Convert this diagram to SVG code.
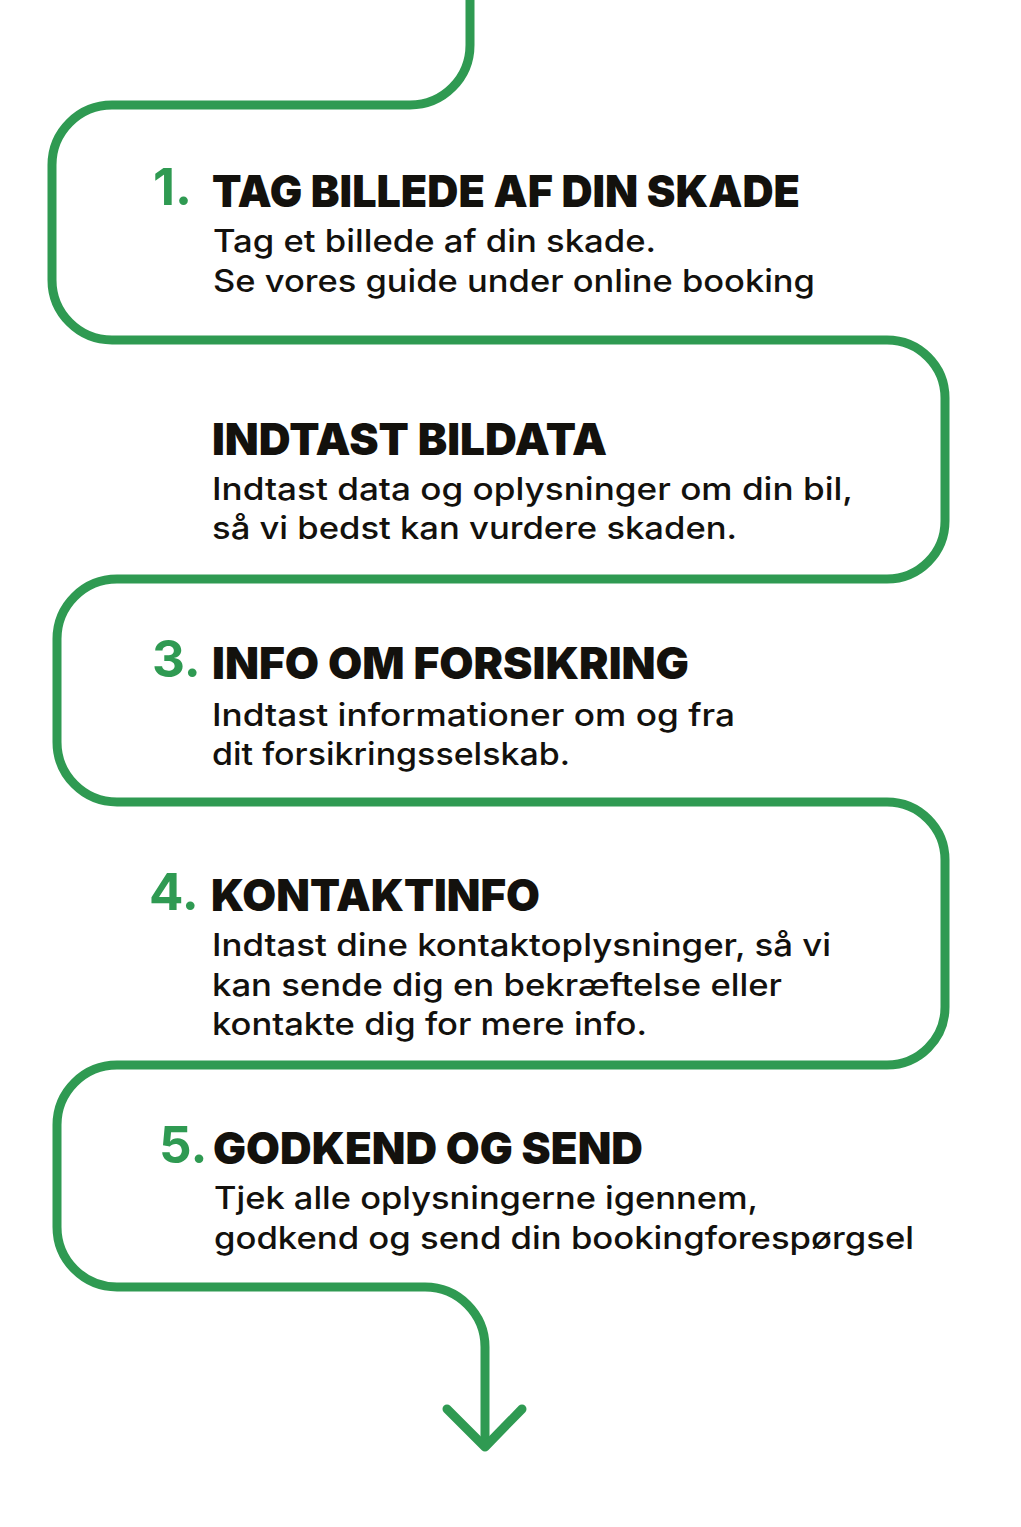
<svg xmlns="http://www.w3.org/2000/svg" width="1021" height="1527" viewBox="0 0 1021 1527">
  <style>
    .num { font-family: Inter, "Open Sans", sans-serif; font-weight: 700; font-size: 51px; fill: #2f9a52; }
    .ttl { font-family: Inter, "Open Sans", sans-serif; font-weight: 900; font-size: 44px; fill: #13110d; }
    .body { font-family: Inter, "Open Sans", sans-serif; font-weight: 500; font-size: 31px; fill: #13110d; }
    .line { fill: none; stroke: #2f9a52; stroke-width: 9; stroke-linecap: round; stroke-linejoin: round; }
  </style>
  <rect width="1021" height="1527" fill="#ffffff"/>
  <g id="connectors">
    <path class="line" d="M 470 -10 V 45 A 60 60 0 0 1 410 105 H 112 A 60 60 0 0 0 52 165 V 280 A 60 60 0 0 0 112 340 H 887 A 58 58 0 0 1 945 398 V 521 A 58 58 0 0 1 887 579 H 117 A 60 60 0 0 0 57 639 V 742 A 60 60 0 0 0 117 802 H 887 A 58 58 0 0 1 945 860 V 1007 A 58 58 0 0 1 887 1065 H 117 A 60 60 0 0 0 57 1125 V 1227 A 60 60 0 0 0 117 1287 H 425 A 60 60 0 0 1 485 1347 V 1446"/>
    <path class="line" d="M 447 1409 L 485 1447 L 522 1409"/>
  </g>
  <g id="step1">
    <text class="num" x="153" y="205">1.</text>
    <text class="ttl" x="212" y="207" textLength="588" lengthAdjust="spacingAndGlyphs">TAG BILLEDE AF DIN SKADE</text>
    <text class="body" x="213" y="252" textLength="443" lengthAdjust="spacingAndGlyphs">Tag et billede af din skade.</text>
    <text class="body" x="213" y="292" textLength="602" lengthAdjust="spacingAndGlyphs">Se vores guide under online booking</text>
  </g>
  <g id="step2">
    <text class="ttl" x="212" y="455" textLength="395" lengthAdjust="spacingAndGlyphs">INDTAST BILDATA</text>
    <text class="body" x="212" y="500" textLength="641" lengthAdjust="spacingAndGlyphs">Indtast data og oplysninger om din bil,</text>
    <text class="body" x="212" y="539" textLength="525" lengthAdjust="spacingAndGlyphs">så vi bedst kan vurdere skaden.</text>
  </g>
  <g id="step3">
    <text class="num" x="152" y="677">3.</text>
    <text class="ttl" x="212" y="679" textLength="477" lengthAdjust="spacingAndGlyphs">INFO OM FORSIKRING</text>
    <text class="body" x="212" y="726" textLength="523" lengthAdjust="spacingAndGlyphs">Indtast informationer om og fra</text>
    <text class="body" x="212" y="765" textLength="358" lengthAdjust="spacingAndGlyphs">dit forsikringsselskab.</text>
  </g>
  <g id="step4">
    <text class="num" x="149" y="910">4.</text>
    <text class="ttl" x="211" y="911" textLength="329" lengthAdjust="spacingAndGlyphs">KONTAKTINFO</text>
    <text class="body" x="212" y="956" textLength="619" lengthAdjust="spacingAndGlyphs">Indtast dine kontaktoplysninger, så vi</text>
    <text class="body" x="212" y="996" textLength="570" lengthAdjust="spacingAndGlyphs">kan sende dig en bekræftelse eller</text>
    <text class="body" x="212" y="1035" textLength="435" lengthAdjust="spacingAndGlyphs">kontakte dig for mere info.</text>
  </g>
  <g id="step5">
    <text class="num" x="159" y="1163">5.</text>
    <text class="ttl" x="213" y="1164" textLength="430" lengthAdjust="spacingAndGlyphs">GODKEND OG SEND</text>
    <text class="body" x="214" y="1209" textLength="544" lengthAdjust="spacingAndGlyphs">Tjek alle oplysningerne igennem,</text>
    <text class="body" x="214" y="1249" textLength="700" lengthAdjust="spacingAndGlyphs">godkend og send din bookingforespørgsel</text>
  </g>
</svg>
